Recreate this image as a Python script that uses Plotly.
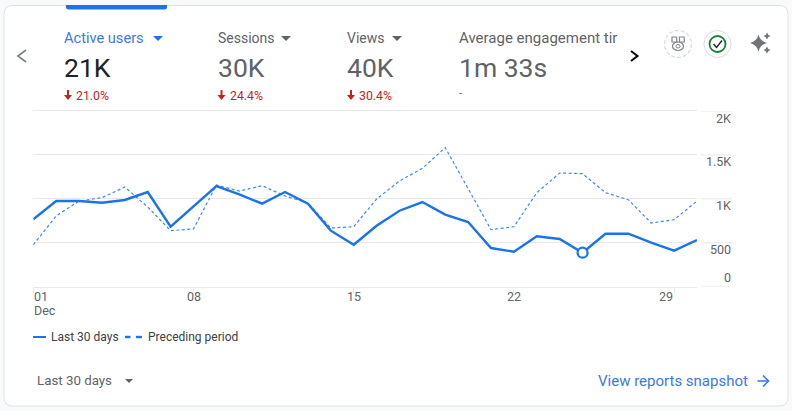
import plotly.graph_objects as go

W, H = 792, 411

# Datos
days = list(range(1, 31))
last_30 = [767, 975, 975, 956, 987, 1078, 683, 911, 1146, 1051,
           945, 1078, 945, 638, 478, 694, 865, 964, 820, 736,
           440, 398, 573, 543, 387, 603, 603, 501, 410, 531]
preceding = [478, 805, 975, 1013, 1135, 907, 638, 657, 1157, 1089,
             1150, 1032, 953, 668, 683, 998, 1203, 1347, 1583, 1120,
             649, 683, 1070, 1294, 1287, 1070, 990, 725, 763, 975]
highlight_day = 25

y_ticks = [0, 500, 1000, 1500, 2000]
y_labels = ["0", "500", "1K", "1.5K", "2K"]
x_ticks = [1, 8, 15, 22, 29]
x_labels = ["01", "08", "15", "22", "29"]
x_anchors = ["first", "center", "center", "center", "last"]

metric_names = ["Active users", "Sessions", "Views", "Average engagement tir"]
metric_values = ["21K", "30K", "40K", "1m 33s"]
metric_changes = ["21.0%", "24.4%", "30.4%", "-"]

BLUE = "#1a73e8"
GREY = "#5f6368"
DARK = "#202124"
RED = "#c5221f"
LINE = "#e8e8e8"
FONT = "Roboto"


def fx(x):
    return x / W


def fy(y):
    return 1 - y / H


def path(cmds):
    # cmds en pixeles de pantalla -> path en coordenadas de papel
    out = []
    for c in cmds:
        if c == "Z":
            out.append("Z")
        else:
            nums = [f"{fx(v) if i % 2 == 0 else fy(v):.5f}" for i, v in enumerate(c[1:])]
            out.append(c[0] + " " + " ".join(nums))
    return " ".join(out)


fig = go.Figure()
fig.add_trace(go.Scatter(x=days, y=preceding, mode="lines", name="Preceding period",
                         line=dict(color="#3f87ee", width=1.2, dash="3px,2.5px")))
fig.add_trace(go.Scatter(x=days, y=last_30, mode="lines", name="Last 30 days",
                         line=dict(color=BLUE, width=2.4)))
fig.add_trace(go.Scatter(x=[highlight_day], y=[last_30[highlight_day - 1]], mode="markers",
                         marker=dict(size=10, color="white", line=dict(color=BLUE, width=2.2)),
                         showlegend=False))

shapes = []
texts = []


def shape(kind, x0, y0, x1, y1, **kw):
    shapes.append(dict(type=kind, xref="paper", yref="paper", x0=fx(x0), x1=fx(x1),
                       y0=fy(y0), y1=fy(y1), **kw))


def poly(cmds, **kw):
    kw.setdefault("line", dict(width=0))
    shapes.append(dict(type="path", xref="paper", yref="paper", path=path(cmds), **kw))


def text(x, y, s, size=12, color=GREY, anchor="left", family=FONT):
    texts.append(dict(xref="paper", yref="paper", x=fx(x), y=fy(y), text=s, showarrow=False,
                      xanchor=anchor, yanchor="middle", borderpad=0,
                      font=dict(size=size, color=color, family=family)))


def triangle(x0, x1, y0, y1, color):
    poly([("M", x0, y0), ("L", x1, y0), ("L", (x0 + x1) / 2, y1), "Z"], fillcolor=color)


# tarjeta
r = 9
x0c, y0c, x1c, y1c = 4, 5.5, 788, 406
poly([("M", x0c + r, y0c), ("L", x1c - r, y0c), ("Q", x1c, y0c, x1c, y0c + r),
      ("L", x1c, y1c - r), ("Q", x1c, y1c, x1c - r, y1c), ("L", x0c + r, y1c),
      ("Q", x0c, y1c, x0c, y1c - r), ("L", x0c, y0c + r), ("Q", x0c, y0c, x0c + r, y0c), "Z"],
     fillcolor="white", line=dict(color="#dfe1e5", width=1), layer="below")
# pestaña activa
poly([("M", 66, 5), ("L", 167, 5), ("L", 167, 7), ("Q", 167, 9.5, 164, 9.5),
      ("L", 69, 9.5), ("Q", 66, 9.5, 66, 7), "Z"], fillcolor=BLUE)

# metricas
metric_x = [63, 216.5, 346, 457.5]
metric_sizes = [14.6, 14, 14, 15]
metric_tri = [(153, 163), (281, 291), (392, 402), None]
for i, name in enumerate(metric_names):
    active = i == 0
    text(metric_x[i], 38, name, metric_sizes[i], "#3b78e7" if active else GREY)
    text(metric_x[i], 67.5, metric_values[i], 26.5, DARK if active else GREY)
    if metric_tri[i]:
        triangle(metric_tri[i][0], metric_tri[i][1], 36, 41, BLUE if active else GREY)
    if metric_changes[i] == "-":
        text(metric_x[i], 94, "-", 11, GREY)
    else:
        ax = metric_x[i] + 5
        shape("line", ax, 90, ax, 96, line=dict(color=RED, width=2))
        poly([("M", ax - 4, 95), ("L", ax + 4, 95), ("L", ax, 100), "Z"], fillcolor=RED)
        text(metric_x[i] + 12, 96, metric_changes[i], 12.3, RED)

# flechas del carrusel
poly([("M", 26, 50), ("L", 18, 56), ("L", 26, 62)], line=dict(color="#80868b", width=1.8))
poly([("M", 631, 51), ("L", 637.5, 56), ("L", 631, 61)], line=dict(color="black", width=2))

# iconos
shape("circle", 664.5, 30.5, 691.5, 57.5, line=dict(color="#dadce0", width=1.3, dash="4px,2px"))
for a, b in [(672, 37), (679.5, 37)]:
    poly([("M", a, b), ("L", a + 4.5, b), ("L", a + 5, b + 5), ("L", a, b + 5), "Z"],
         line=dict(color="#80868b", width=1.2))
shape("circle", 672.5, 42, 683.5, 50.5, line=dict(color="#80868b", width=1.2))
shape("circle", 676, 44.5, 680, 48, line=dict(color="#80868b", width=1))
shape("circle", 704, 30.5, 731, 57.5, line=dict(color="#dadce0", width=1))
shape("circle", 709.5, 36, 725.5, 52, line=dict(color="#188038", width=1.8))
poly([("M", 713.5, 44), ("L", 716.5, 47.5), ("L", 722, 40.5)], line=dict(color=DARK, width=1.4))
for cx, cy, s in [(758.5, 43, 8.5), (767, 36, 3.5), (767, 50, 3.5)]:
    poly([("M", cx, cy - s), ("Q", cx + s * 0.2, cy - s * 0.2, cx + s, cy),
          ("Q", cx + s * 0.2, cy + s * 0.2, cx, cy + s),
          ("Q", cx - s * 0.2, cy + s * 0.2, cx - s, cy),
          ("Q", cx - s * 0.2, cy - s * 0.2, cx, cy - s), "Z"], fillcolor="#70757a")

# extension de la rejilla a la derecha y etiquetas del eje y
for v, lab in zip(y_ticks, y_labels):
    shapes.append(dict(type="line", xref="paper", yref="y", x0=fx(701), x1=fx(732), y0=v, y1=v,
                       line=dict(color=LINE, width=1)))
    texts.append(dict(xref="paper", yref="y", x=fx(731.5), y=v, text=lab, showarrow=False,
                      xanchor="right", yanchor="middle", borderpad=0,
                      yshift=9 if v == 0 else -7, font=dict(size=12.5, color=GREY, family=FONT)))

# etiquetas del eje x: la primera y la ultima no van centradas en su marca
anchor_map = {"first": "left", "center": "center", "last": "right"}
for v, lab, a in zip(x_ticks, x_labels, x_anchors):
    texts.append(dict(xref="x", yref="paper", x=v, y=fy(296.5), text=lab, showarrow=False,
                      xanchor=anchor_map[a], yanchor="middle", borderpad=0,
                      font=dict(size=12.5, color=GREY, family=FONT)))
text(32.5, 310.5, "Dec", 12.5)

# leyenda
shape("line", 33, 337, 46, 337, line=dict(color=BLUE, width=2))
text(49.5, 337, "Last 30 days", 12, "#3c4043")
shape("line", 125, 337, 130.5, 337, line=dict(color=BLUE, width=2.4))
shape("line", 136, 337, 142, 337, line=dict(color=BLUE, width=2.4))
text(147, 337, "Preceding period", 12, "#3c4043")

# pie
text(35.5, 380, "Last 30 days", 13.3)
triangle(125, 133, 379, 383, GREY)
text(596.5, 381, "View reports snapshot", 15, "#3b78e7")
shape("line", 757.5, 381, 768.5, 381, line=dict(color="#3b78e7", width=1.6))
poly([("M", 763, 375.5), ("L", 768.5, 381), ("L", 763, 386.5)], line=dict(color="#3b78e7", width=1.6))

fig.update_layout(
    width=W, height=H, autosize=False, showlegend=False,
    margin=dict(l=0, r=0, t=0, b=0),
    paper_bgcolor="#f7f9fb", plot_bgcolor="rgba(0,0,0,0)",
    font=dict(family=FONT, size=12, color=GREY),
    shapes=shapes, annotations=texts,
    xaxis=dict(domain=[fx(33.3), fx(697)], range=[1, 30], tickmode="array",
               tickvals=x_ticks, showticklabels=False, ticks="outside", ticklen=5,
               tickcolor=LINE, showgrid=False, zeroline=False, showline=True, mirror=True,
               linecolor=LINE),
    yaxis=dict(domain=[fy(286.7), fy(111)], range=[0, 2000], tickmode="array",
               tickvals=y_ticks, showticklabels=False, showgrid=True, gridcolor=LINE,
               gridwidth=1, zeroline=False, showline=False),
)

fig.write_html("out.html", config=dict(displayModeBar=False),
               post_script="document.body.style.margin='0';document.body.style.overflow='hidden';")
